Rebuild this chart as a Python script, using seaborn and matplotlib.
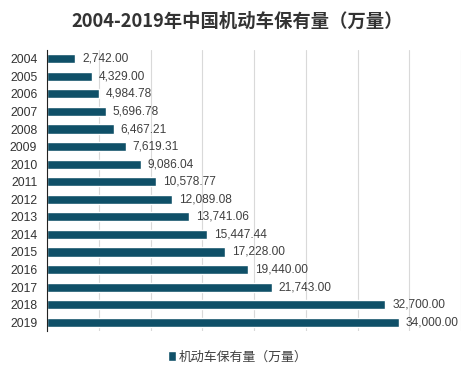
import pandas as pd
import seaborn as sns
import matplotlib.pyplot as plt
from matplotlib.patches import Patch

# Data: China motor vehicle ownership (10k units)
years = ["2004", "2005", "2006", "2007", "2008", "2009", "2010", "2011",
         "2012", "2013", "2014", "2015", "2016", "2017", "2018", "2019"]
vehicles = [2742.00, 4329.00, 4984.78, 5696.78, 6467.21, 7619.31, 9086.04, 10578.77,
            12089.08, 13741.06, 15447.44, 17228.00, 19440.00, 21743.00, 32700.00, 34000.00]

df = pd.DataFrame({"year": years, "vehicles": vehicles})

sns.set_theme(style="white")
plt.rcParams['font.family'] = ['Liberation Sans', 'Noto Sans CJK SC', 'DejaVu Sans']

bar_color = "#0f5068"

fig = plt.figure(figsize=(4.75, 3.78), dpi=100)
ax = fig.add_axes([47 / 475, 1 - 331 / 378, (461 - 47) / 475, (331 - 50) / 378])

sns.barplot(data=df, x="vehicles", y="year", orient="h", color=bar_color,
            width=0.52, saturation=1, ax=ax)

for i, v in enumerate(vehicles):
    ax.text(v + 650, i, f"{v:,.2f}", va="center", ha="left", fontsize=8.6, color="#404040")

ax.set_xlim(0, 40000)
ax.set_xticks(range(0, 40001, 5000))
ax.set_xticklabels([])
ax.tick_params(axis="x", length=0)
ax.tick_params(axis="y", length=0, labelsize=8.8, labelcolor="#333333", pad=7)
ax.xaxis.grid(True, color="#d9d9d9", linewidth=0.8)
ax.set_axisbelow(True)
ax.set_xlabel("")
ax.set_ylabel("")
for s in ["top", "right", "bottom"]:
    ax.spines[s].set_visible(False)
ax.spines["left"].set_color("#222222")
ax.spines["left"].set_linewidth(0.8)

fig.text(0.5, 1 - 21 / 378, "2004-2019年中国机动车保有量（万量）", ha="center", va="center",
         fontsize=13.2, fontweight="bold", color="#333333",
         family=['Noto Sans CJK SC', 'DejaVu Sans'])

fig.legend(handles=[Patch(facecolor=bar_color, label="机动车保有量（万量）")],
           loc="center", bbox_to_anchor=(0.5, 1 - 357 / 378), frameon=False,
           prop={'family': ['Noto Sans CJK SC', 'DejaVu Sans'], 'size': 9.3},
           handlelength=0.6, handleheight=0.7, handletextpad=0.2,
           labelcolor="#404040")

fig.savefig("out.png", dpi=100)
